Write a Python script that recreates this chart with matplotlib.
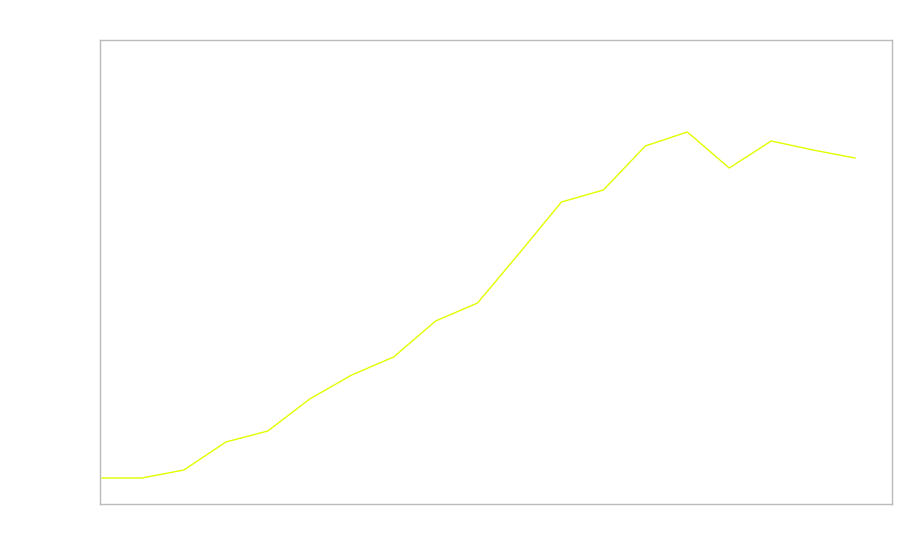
import matplotlib
matplotlib.use("Agg")
import matplotlib.pyplot as plt

# values (no axis labels shown, arbitrary units)
x_idx = list(range(19))
values = [26, 26, 34, 62, 73, 105, 129, 147, 183, 201,
          251, 302, 314, 358, 372, 336, 363, 354, 346]

fig = plt.figure(figsize=(9, 5.6), dpi=100)
ax = fig.add_axes([100 / 900, 56 / 560, 792 / 900, 464 / 560])

ax.plot(x_idx, values, color="#e2ff00", linewidth=1.0)

ax.set_xlim(0, 18.88)
ax.set_ylim(0, 464)
ax.set_xticks([])
ax.set_yticks([])
for side in ax.spines.values():
    side.set_color("#bbbbbb")
    side.set_linewidth(1.0)

fig.savefig("out.png", dpi=100)
